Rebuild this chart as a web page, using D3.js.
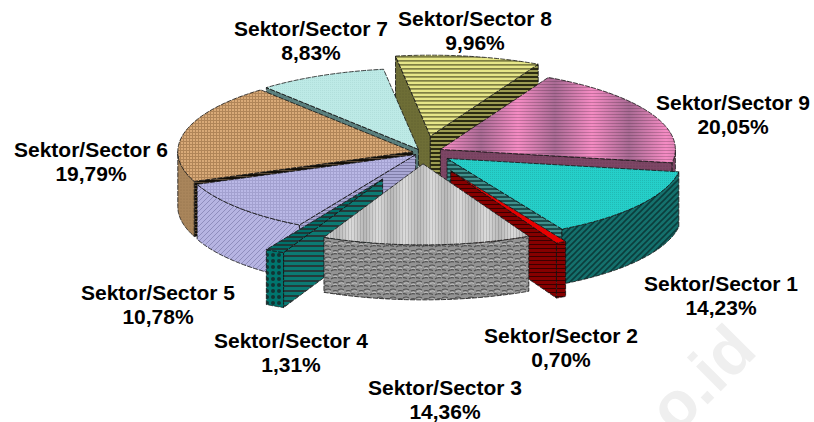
<!DOCTYPE html>
<html><head><meta charset="utf-8">
<script src="https://cdnjs.cloudflare.com/ajax/libs/d3/7.8.5/d3.min.js"></script>
<style>html,body{margin:0;padding:0;background:#fff;overflow:hidden}svg{display:block}</style>
</head><body><svg id="c" width="814" height="422"></svg>
<script>
const categories = ["Sektor/Sector 1","Sektor/Sector 2","Sektor/Sector 3","Sektor/Sector 4","Sektor/Sector 5","Sektor/Sector 6","Sektor/Sector 7","Sektor/Sector 8","Sektor/Sector 9"];
const values = [14.23,0.70,14.36,1.31,10.78,19.79,8.83,9.96,20.05];
const valueLabels = ["14,23%","0,70%","14,36%","1,31%","10,78%","19,79%","8,83%","9,96%","20,05%"];
// layout (not data)
const explode = [30,60,33,87,9,10,10,48,20];
const paintOrder = [7,6,8,5,0,4,1,3,2];
const labelAt = [[721,284],[561,336],[445,388],[291,341],[158,293],[91,150],[311,29],[475,19],[733,103]];
const cx=422.5, cy=152.5, Rx=235, Ry=81, depth=55, startDeg=99.5;

const svg=d3.select("#c");
// watermark sits under everything
svg.append("text").attr("transform","translate(676,436) rotate(-45)").attr("font-family","'Liberation Sans',Arial,sans-serif").attr("font-weight","bold").attr("font-size",66).attr("fill","#efefef").text("o.id");
const defs=svg.append("defs");
function pat(id,w,h,bg,draw){
  const p=defs.append("pattern").attr("id",id).attr("patternUnits","userSpaceOnUse").attr("width",w).attr("height",h);
  p.append("rect").attr("width",w).attr("height",h).attr("fill",bg);
  draw(p);
}
const hl=(p,y,t,c,w)=>p.append("rect").attr("x",0).attr("y",y).attr("width",w).attr("height",t).attr("fill",c);
const vl=(p,x,t,c,h)=>p.append("rect").attr("x",x).attr("y",0).attr("width",t).attr("height",h).attr("fill",c);
const dot=(p,x,y,r,c)=>p.append("circle").attr("cx",x).attr("cy",y).attr("r",r).attr("fill",c);
const diag=(p,s,c,t)=>p.append("path").attr("d",`M${-s},${s*2}L${s*2},${-s}M${-s},${s}L${s},${-s}M0,${s*2}L${s*2},0`).attr("stroke",c).attr("stroke-width",t);
// tops
pat("t1",2,2,"#25cfc9",p=>{dot(p,.5,.5,.5,"#1fb3ad");});
pat("t2",2,2,"#e80000",()=>{});
const grayBand=defs.append("linearGradient").attr("id","grayband").attr("spreadMethod","repeat").attr("gradientUnits","userSpaceOnUse").attr("x1",0).attr("x2",27).attr("y1",0).attr("y2",0);
[[0,"#dcdcdc"],[.5,"#b8b8b8"],[1,"#dcdcdc"]].forEach(s=>grayBand.append("stop").attr("offset",s[0]).attr("stop-color",s[1]));
pat("t3",27,2,"#d9d9d9",p=>{p.append("rect").attr("width",27).attr("height",2).attr("fill","url(#grayband)");d3.range(0,27,3).forEach(x=>vl(p,x,1,"#00000022",2));});
pat("t4",4,4,"#00706a",p=>{hl(p,0,2,"#1d3b3a",4);});
pat("t5",3,3,"#bab8e6",p=>{hl(p,0,1,"#a3a1d0",3);vl(p,0,1,"#a3a1d0",3);});
pat("t6",3,3,"#d9aa78",p=>{hl(p,0,1,"#b08558",3);vl(p,0,1,"#b08558",3);});
pat("t7",2,2,"#bdeae6",p=>{dot(p,.5,.5,.45,"#a4d4d0");});
pat("t8",4,4,"#e6e688",p=>{hl(p,0,1.7,"#7f7f44",4);});
const gr=defs.append("linearGradient").attr("id","pinkband").attr("spreadMethod","repeat").attr("gradientUnits","userSpaceOnUse").attr("x1",0).attr("x2",74).attr("y1",0).attr("y2",0);
[[0,"#f58cc4"],[.5,"#a96a94"],[1,"#f58cc4"]].forEach(s=>gr.append("stop").attr("offset",s[0]).attr("stop-color",s[1]));
pat("t9",74,3,"#f58cc4",p=>{p.append("rect").attr("width",74).attr("height",3).attr("fill","url(#pinkband)");hl(p,0,1,"#00000030",74);});
// walls
pat("s1",6,6,"#14706c",p=>diag(p,6,"#0b3d3c",1.6));
pat("e1",4,4,"#3f8f8b",p=>hl(p,0,2,"#1b4e4d",4));
pat("s2",4,4,"#860000",p=>hl(p,0,1,"#3a0000",4));
pat("s3",13,8,"#939393",p=>{p.append("path").attr("d","M0,2Q3,0 6,2M8,3Q10,2 13,3M-2,6Q1,5 4,6.5M6,7Q9,5 12,6").attr("fill","none").attr("stroke","#525252").attr("stroke-width",1.1);p.append("path").attr("d","M1,3.5Q4,2 6,3.5M8,5Q10,3.5 12,4.5").attr("fill","none").attr("stroke","#c8c8c8").attr("stroke-width",.8);});
pat("s4",6,6,"#00756e",p=>{dot(p,3,3,2,"#123333");});
pat("e4",4,5,"#0b7a73",p=>hl(p,0,2,"#243b3b",4));
pat("s5",5,5,"#b6b4e2",p=>diag(p,5,"#8f8dbd",1));
pat("e5",3,3,"#a9a7d4",p=>hl(p,0,1,"#7f7da8",3));
pat("s6",3,3,"#a9855b",p=>dot(p,1,1,.6,"#8f6e49"));
pat("e6",3,3,"#5a4a36",p=>hl(p,0,2,"#141008",3));
pat("e7",3,3,"#5c8280",p=>dot(p,1,1,.5,"#3f5a59"));
pat("e8a",3,3,"#6e6e36",p=>dot(p,1,1,.5,"#57572a"));
pat("e8b",4,4,"#9c9c52",p=>hl(p,0,2,"#2b2b12",4));
pat("e9",3,3,"#7d4665",p=>dot(p,1,1,.5,"#5e324b"));

const topFill=d=>`url(#t${d.index+1})`;
const outerFill=["s1","s2","s3","s4","s5","s6","e7","e8a","e9"];
const startFill=["e1","s2","s3","e4","e5","e6","e7","e8a","e9"];
const endFill=["e1","s2","s3","e4","e5","e6","e7","e8b","e9"];

const pie=d3.pie().sort(null).startAngle(startDeg*Math.PI/180).endAngle((startDeg+360)*Math.PI/180);
const arcs=pie(values);
const line=d3.line();
const X=(a,r=1)=>Rx*r*Math.sin(a), Y=(a,r=1)=>-Ry*r*Math.cos(a);
const stroke={stroke:"#111","stroke-width":.8,"stroke-linejoin":"round","stroke-dasharray":"5 1.2"};
const g=svg.append("g");
function face(par,pts,fill){
  const p=par.append("path").attr("d",line(pts)+"Z").attr("fill",fill);
  Object.entries(stroke).forEach(([k,v])=>p.attr(k,v));
  return p;
}
paintOrder.forEach(i=>{
  const d=arcs[i], b=(d.startAngle+d.endAngle)/2;
  const e=explode[i];
  const ox=cx+e*Math.sin(b), oy=cy-e*Math.cos(b)*Ry/Rx;
  const sl=g.append("g").attr("class","slice").attr("data-cat",categories[i]);
  const P=(a,r=1,dz=0)=>[ox+X(a,r),oy+Y(a,r)+dz];
  const a0=d.startAngle,a1=d.endAngle;
  const radial=(a,f)=>face(sl,[P(a,0),P(a),P(a,1,depth),P(a,0,depth)],`url(#${f})`);
  if(Math.sin(a0)<0) radial(a0,startFill[i]);
  if(Math.sin(a1)>0) radial(a1,endFill[i]);
  // outer wall: the part of the rim facing the viewer
  [[Math.PI/2,3*Math.PI/2],[Math.PI/2+2*Math.PI,3*Math.PI/2+2*Math.PI]].forEach(([lo,hi])=>{
    const s=Math.max(a0,lo),t=Math.min(a1,hi);
    if(t>s){
      const as=d3.range(0,41).map(k=>s+(t-s)*k/40);
      face(sl,as.map(a=>P(a)).concat(as.slice().reverse().map(a=>P(a,1,depth))),`url(#${outerFill[i]})`);
    }
  });
  const as=d3.range(0,61).map(k=>a0+(a1-a0)*k/60);
  face(sl,[P(0,0)].concat(as.map(a=>P(a))),topFill(d));
});
// labels
const lab=svg.append("g").attr("font-family","'Liberation Sans',Arial,sans-serif").attr("font-weight","bold").attr("font-size",21).attr("fill","#000").attr("text-anchor","middle");
categories.forEach((c,i)=>{
  const [x,y]=labelAt[i];
  lab.append("text").attr("x",x).attr("y",y+7).text(c);
  lab.append("text").attr("x",x).attr("y",y+30.5).text(valueLabels[i]);
});
</script></body></html>
